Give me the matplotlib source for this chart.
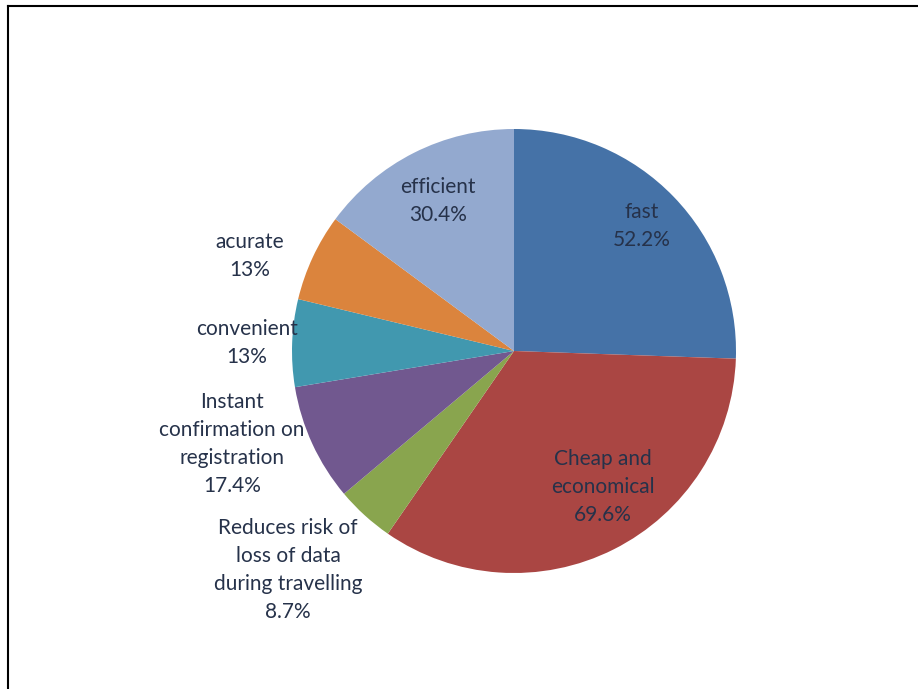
import matplotlib
matplotlib.use("Agg")
from matplotlib import pyplot as plt
from matplotlib.lines import Line2D

labels = ["fast", "Cheap and\neconomical", "Reduces risk of\nloss of data\nduring travelling",
          "Instant\nconfirmation on\nregistration", "convenient", "acurate", "efficient"]
values = [52.2, 69.6, 8.7, 17.4, 13, 13, 30.4]
pct_text = ["52.2%", "69.6%", "8.7%", "17.4%", "13%", "13%", "30.4%"]
colors = ["#4572A7", "#AA4643", "#89A54E", "#71588F", "#4198AF", "#DB843D", "#93A9CF"]

# label centres in pixels (x, y from top)
label_pos = [(642, 226), (603, 487), (288, 570), (232, 444), (247, 343), (250, 256), (438, 201)]

W, H = 918, 689
cx, cy, r = 514, 351, 222

fig = plt.figure(figsize=(W / 100, H / 100), dpi=100)
ax = fig.add_axes([(cx - r) / W, (H - cy - r) / H, 2 * r / W, 2 * r / H])
ax.pie(values, colors=colors, startangle=90, counterclock=False,
       wedgeprops=dict(linewidth=0), radius=1)
ax.set_xlim(-1, 1)
ax.set_ylim(-1, 1)
ax.set_aspect("equal")

for lab, pct, (px, py) in zip(labels, pct_text, label_pos):
    fig.text(px / W, 1 - py / H, lab + "\n" + pct, ha="center", va="center",
             fontsize=15, family="Lato", color="#26324a", linespacing=1.5)

# frame lines on top and left
fig.add_artist(Line2D([8 / W, 8 / W], [0, 1 - 6 / H], transform=fig.transFigure, color="black", lw=1.5))
fig.add_artist(Line2D([8 / W, 1], [1 - 6 / H, 1 - 6 / H], transform=fig.transFigure, color="black", lw=1.5))

fig.savefig("out.png", dpi=100)
